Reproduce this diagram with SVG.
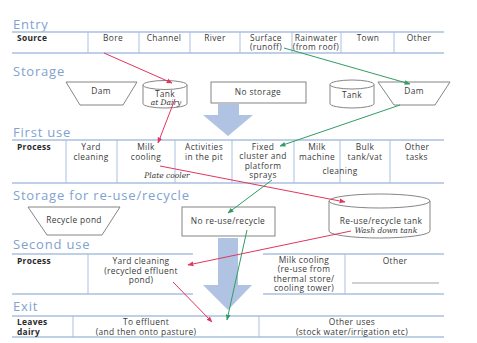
<svg xmlns="http://www.w3.org/2000/svg" width="477" height="343" viewBox="0 0 477 343">
  <defs>
    <style>
      .title { font-family: "Open Sans", "Noto Sans", sans-serif; font-size: 13px; letter-spacing: 0.8px; fill: #7fa2cf; }
      .t { font-family: "Open Sans", "Noto Sans", sans-serif; font-size: 8.4px; letter-spacing: 0.35px; fill: #3a3a3a; text-anchor: middle; }
      .b { font-family: "Open Sans", "Noto Sans", sans-serif; font-size: 8.4px; letter-spacing: 0.3px; fill: #2a2a2a; font-weight: bold; }
      .hand { font-family: "DejaVu Serif", "Liberation Serif", serif; font-style: italic; font-size: 7.5px; fill: #333; text-anchor: middle; }
      .rule { stroke: #a9bfdf; stroke-width: 1.3; fill: none; }
      .div { stroke: #a9bfdf; stroke-width: 1; fill: none; }
      .shape { fill: #fff; stroke: #777; stroke-width: 0.9; }
      .big { fill: #b1c3e3; }
      .red { stroke: #e0365f; stroke-width: 1; fill: none; marker-end: url(#headRed); }
      .green { stroke: #2f9d62; stroke-width: 1; fill: none; marker-end: url(#headGreen); }
    </style>
    <marker id="headRed" viewBox="0 0 10 10" refX="9" refY="5" markerWidth="6" markerHeight="6" orient="auto">
      <path d="M0,1 L10,5 L0,9 z" fill="#e0365f"/>
    </marker>
    <marker id="headGreen" viewBox="0 0 10 10" refX="9" refY="5" markerWidth="6" markerHeight="6" orient="auto">
      <path d="M0,1 L10,5 L0,9 z" fill="#2f9d62"/>
    </marker>
  </defs>

  <rect width="477" height="343" fill="#fff"/>

  <!-- big flow arrows -->
  <g id="flow-arrow-1">
    <path class="big" d="M218,104 H239 V115 H253 L228,136 L203,115 H218 Z"/>
  </g>
  <g id="flow-arrow-2">
    <path class="big" d="M218,238 H238 V285 H252 L228,310 L203,285 H218 Z"/>
  </g>

  <!-- Entry -->
  <g id="entry">
    <text class="title" x="13" y="29">Entry</text>
    <line class="rule" x1="12" y1="32" x2="444" y2="32"/>
    <line class="rule" x1="12" y1="53" x2="444" y2="53"/>
    <g class="div">
      <line x1="88" y1="32" x2="88" y2="53"/>
      <line x1="139" y1="32" x2="139" y2="53"/>
      <line x1="190" y1="32" x2="190" y2="53"/>
      <line x1="240" y1="32" x2="240" y2="53"/>
      <line x1="292" y1="32" x2="292" y2="53"/>
      <line x1="341" y1="32" x2="341" y2="53"/>
      <line x1="394" y1="32" x2="394" y2="53"/>
    </g>
    <text class="b" x="17" y="41">Source</text>
    <text class="t" x="113" y="41">Bore</text>
    <text class="t" x="164" y="41">Channel</text>
    <text class="t" x="215" y="41">River</text>
    <text class="t" x="266" y="40.5">Surface</text>
    <text class="t" x="266" y="50.2">(runoff)</text>
    <text class="t" x="316" y="40.5">Rainwater</text>
    <text class="t" x="316" y="50.2">(from roof)</text>
    <text class="t" x="368" y="41">Town</text>
    <text class="t" x="419" y="41">Other</text>
  </g>

  <!-- Storage -->
  <text class="title" x="13" y="76">Storage</text>
  <g id="dam-left">
    <path class="shape" d="M66,82 H137 L123,105 H80 Z"/>
    <text class="t" x="101" y="94">Dam</text>
  </g>
  <g id="tank-dairy">
    <path class="shape" d="M143,85 V103.5 A22,4.5 0 0 0 187,103.5 V85"/>
    <ellipse class="shape" cx="165" cy="85" rx="22" ry="4.5"/>
    <text class="t" x="165" y="97">Tank</text>
    <text class="hand" x="166" y="105">at Dairy</text>
  </g>
  <g id="no-storage">
    <rect class="shape" x="211" y="82" width="95" height="21"/>
    <text class="t" x="258" y="95">No storage</text>
  </g>
  <g id="tank-right">
    <path class="shape" d="M330,84.5 V103.5 A22,4.5 0 0 0 374,103.5 V84.5"/>
    <ellipse class="shape" cx="352" cy="84.5" rx="22" ry="4.5"/>
    <text class="t" x="352" y="98">Tank</text>
  </g>
  <g id="dam-right">
    <path class="shape" d="M378,82 H450 L435,105 H394 Z"/>
    <text class="t" x="414" y="94">Dam</text>
  </g>

  <!-- First use -->
  <g id="first-use">
    <text class="title" x="13" y="137">First use</text>
    <line class="rule" x1="12" y1="140" x2="444" y2="140"/>
    <line class="rule" x1="12" y1="183" x2="444" y2="183"/>
    <g class="div">
      <line x1="66" y1="140" x2="66" y2="183"/>
      <line x1="117" y1="140" x2="117" y2="183"/>
      <line x1="175" y1="140" x2="175" y2="183"/>
      <line x1="232" y1="140" x2="232" y2="183"/>
      <line x1="294" y1="140" x2="294" y2="183"/>
      <line x1="340" y1="140" x2="340" y2="183"/>
      <line x1="390" y1="140" x2="390" y2="183"/>
    </g>
    <text class="b" x="17" y="150">Process</text>
    <text class="t" x="91" y="150">Yard</text>
    <text class="t" x="91" y="159.5">cleaning</text>
    <text class="t" x="146" y="150">Milk</text>
    <text class="t" x="146" y="159.5">cooling</text>
    <text class="hand" x="167" y="178">Plate cooler</text>
    <text class="t" x="204" y="150">Activities</text>
    <text class="t" x="204" y="159.5">in the pit</text>
    <text class="t" x="263" y="149.5">Fixed</text>
    <text class="t" x="263" y="159">cluster and</text>
    <text class="t" x="263" y="168.5">platform</text>
    <text class="t" x="263" y="178">sprays</text>
    <text class="t" x="317" y="150">Milk</text>
    <text class="t" x="317" y="159.5">machine</text>
    <text class="t" x="365" y="150">Bulk</text>
    <text class="t" x="365" y="159.5">tank/vat</text>
    <text class="t" x="340" y="174">cleaning</text>
    <text class="t" x="417" y="150">Other</text>
    <text class="t" x="417" y="159.5">tasks</text>
  </g>

  <!-- Storage for re-use/recycle -->
  <text class="title" x="13" y="200">Storage for re-use/recycle</text>
  <g id="recycle-pond">
    <path class="shape" d="M28,207 H120 L102,235 H47 Z"/>
    <text class="t" x="74" y="223">Recycle pond</text>
  </g>
  <g id="no-reuse">
    <rect class="shape" x="182" y="207" width="93" height="29"/>
    <text class="t" x="228" y="224">No re-use/recycle</text>
  </g>
  <g id="reuse-tank">
    <path class="shape" d="M329,201 V231 A50.5,7 0 0 0 430,231 V201"/>
    <ellipse class="shape" cx="379.5" cy="201" rx="50.5" ry="7"/>
    <text class="t" x="381" y="224">Re-use/recycle tank</text>
    <text class="hand" x="386" y="233">Wash down tank</text>
  </g>

  <!-- Second use -->
  <g id="second-use">
    <text class="title" x="13" y="249">Second use</text>
    <line class="rule" x1="12" y1="254" x2="193" y2="254"/>
    <line class="rule" x1="263" y1="254" x2="444" y2="254"/>
    <line class="rule" x1="12" y1="294" x2="193" y2="294"/>
    <line class="rule" x1="263" y1="294" x2="444" y2="294"/>
    <g class="div">
      <line x1="88" y1="254" x2="88" y2="294"/>
      <line x1="345" y1="254" x2="345" y2="294"/>
    </g>
    <line x1="352" y1="283" x2="439" y2="283" stroke="#8a8a8a" stroke-width="0.8"/>
    <text class="b" x="17" y="264">Process</text>
    <text class="t" x="141" y="264">Yard cleaning</text>
    <text class="t" x="141" y="273.5">(recycled effluent</text>
    <text class="t" x="141" y="283">pond)</text>
    <text class="t" x="304" y="262.5">Milk cooling</text>
    <text class="t" x="304" y="272">(re-use from</text>
    <text class="t" x="304" y="281.5">thermal store/</text>
    <text class="t" x="304" y="291">cooling tower)</text>
    <text class="t" x="395" y="264">Other</text>
  </g>

  <!-- Exit -->
  <g id="exit">
    <text class="title" x="13" y="311">Exit</text>
    <line class="rule" x1="12" y1="316" x2="444" y2="316"/>
    <line class="rule" x1="12" y1="337" x2="444" y2="337"/>
    <g class="div">
      <line x1="73" y1="316" x2="73" y2="337"/>
      <line x1="259" y1="316" x2="259" y2="337"/>
    </g>
    <text class="b" x="17" y="325">Leaves</text>
    <text class="b" x="17" y="334.5">dairy</text>
    <text class="t" x="146" y="325">To effluent</text>
    <text class="t" x="146" y="334.5">(and then onto pasture)</text>
    <text class="t" x="352" y="325">Other uses</text>
    <text class="t" x="352" y="334.5">(stock water/irrigation etc)</text>
  </g>

  <!-- connectors -->
  <g id="connectors">
    <line class="red" x1="104" y1="53" x2="172" y2="83"/>
    <line class="green" x1="284" y1="48" x2="410" y2="84"/>
    <line class="red" x1="175" y1="99" x2="158" y2="143"/>
    <line class="green" x1="400" y1="105" x2="280" y2="146"/>
    <line class="red" x1="160" y1="166" x2="345" y2="202"/>
    <line class="green" x1="272" y1="180" x2="228" y2="213"/>
    <line class="red" x1="351" y1="231" x2="188" y2="265"/>
    <line class="green" x1="247" y1="230" x2="227" y2="320"/>
    <line class="red" x1="173" y1="282" x2="212" y2="322"/>
  </g>
</svg>
